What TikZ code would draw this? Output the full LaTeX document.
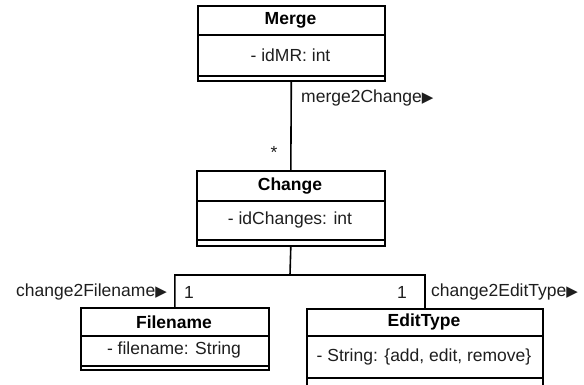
\documentclass[tikz,border=0pt]{standalone}
\usepackage{fontspec}
\setmainfont{Liberation Sans}
\newfontfamily\symfont{DejaVu Sans}
\newcommand{\tri}{{\symfont\fontsize{15}{15}\selectfont\symbol{"25B6}}}
\definecolor{txt}{RGB}{30,30,30}
\begin{document}
\begin{tikzpicture}[x=1pt,y=-1pt,
  box/.style={draw,line width=1.6pt,inner sep=0pt,anchor=north west},
  sep/.style={line width=1.6pt},
  conn/.style={line width=1.6pt},
  ttl/.style={font=\fontsize{17.5}{20}\selectfont\bfseries,inner sep=0pt},
  attr/.style={font=\fontsize{17.5}{20}\selectfont,inner sep=0pt,text=txt},
  lbl/.style={font=\fontsize{17.5}{20}\selectfont,inner sep=0pt,text=txt}]
\useasboundingbox (0,0) rectangle (584,385);
\clip (0,0) rectangle (584,385);
% Merge
\node[box,minimum width=187pt,minimum height=75pt] (merge) at (197,5) {};
\draw[sep] (197,35) -- (384,35);
\draw[sep] (197,76) -- (384,76);
\node[ttl] (mergeT) at (290.5,20) {Merge};
\node[attr] (mergeA) at (290.5,55) {- idMR: int};
% Change
\node[box,minimum width=188pt,minimum height=75pt] (change) at (196,170) {};
\draw[sep] (196,201) -- (384,201);
\draw[sep] (196,240) -- (384,240);
\node[ttl] (changeT) at (290,186) {Change};
\node[attr] (changeA) at (290,220) {- idChanges: int};
% Filename
\node[box,minimum width=188pt,minimum height=62pt] (filename) at (80,307) {};
\draw[sep] (80,336) -- (268,336);
\draw[sep] (80,366) -- (268,366);
\node[ttl] (filenameT) at (174,322) {Filename};
\node[attr] (filenameA) at (174,350) {- filename: String};
% EditType
\node[box,minimum width=236pt,minimum height=84pt] (edittype) at (306,308) {};
\draw[sep] (306,336) -- (542,336);
\draw[sep] (306,378) -- (542,378);
\node[ttl] (edittypeT) at (424,322) {EditType};
\node[attr] (edittypeA) at (424,357) {- String: \{add, edit, remove\}};
% connectors
\coordinate (j) at (290,275);
\draw[conn] (merge.south) -- (change.north);
\draw[conn] (change.south) -- (j) -| (filename.north);
\draw[conn] (j) -| (edittype.north);
% labels
\node[lbl,anchor=west] (l1) at (301,98) {merge2Change\tri};
\node[lbl] (star) at (274,152) {*};
\node[lbl,anchor=east] (l2) at (167,292) {change2Filename\tri};
\node[lbl] (m1) at (189,292) {1};
\node[lbl] (m2) at (402,292) {1};
\node[lbl,anchor=west] (l3) at (431,292) {change2EditType\tri};
\end{tikzpicture}
\end{document}
